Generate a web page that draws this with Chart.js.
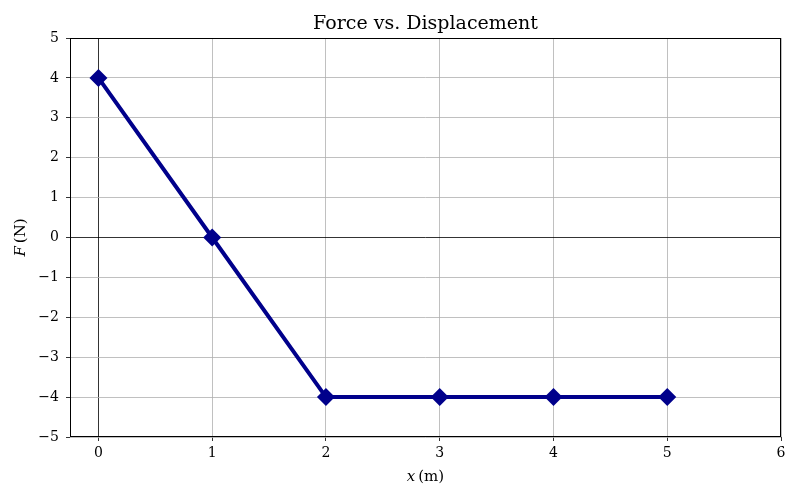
<!DOCTYPE html>
<html>
<head>
<meta charset="utf-8">
<script src="https://cdn.jsdelivr.net/npm/chart.js@4/dist/chart.umd.min.js"></script>
<style>
  body { margin: 0; background: #fff; }
</style>
</head>
<body>
<canvas id="forceChart" width="800" height="500"></canvas>
<script>
// data
const displacement = [0, 1, 2, 3, 4, 5];
const force = [4, 0, -4, -4, -4, -4];
const xTicks = [0, 1, 2, 3, 4, 5, 6];
const yTicks = [-5, -4, -3, -2, -1, 0, 1, 2, 3, 4, 5];
const chartTitle = 'Force vs. Displacement';

const serif = "'DejaVu Serif', 'Liberation Serif', serif";

// label with italic symbol + upright unit
function drawMixed(ctx, sym, unit, x, y, rotate) {
  ctx.save();
  ctx.translate(x, y);
  if (rotate) ctx.rotate(-Math.PI / 2);
  ctx.fillStyle = '#000';
  ctx.textBaseline = 'middle';
  ctx.font = 'italic 15px ' + serif;
  const w1 = ctx.measureText(sym).width;
  ctx.font = '15px ' + serif;
  const w2 = ctx.measureText(unit).width;
  let start = -(w1 + w2) / 2;
  ctx.textAlign = 'left';
  ctx.font = 'italic 15px ' + serif;
  ctx.fillText(sym, start, 0);
  ctx.font = '15px ' + serif;
  ctx.fillText(unit, start + w1, 0);
  ctx.restore();
}

const framePlugin = {
  id: 'frame',
  afterDraw(chart) {
    const { ctx, chartArea: a } = chart;
    ctx.save();
    ctx.strokeStyle = '#000';
    ctx.lineWidth = 1;
    ctx.strokeRect(a.left + 0.5, a.top + 0.5, a.right - a.left - 1, a.bottom - a.top - 1);
    // title centred over the plot area
    ctx.fillStyle = '#000';
    ctx.font = '19px ' + serif;
    ctx.textAlign = 'center';
    ctx.textBaseline = 'middle';
    ctx.fillText(chartTitle, (a.left + a.right) / 2, 24);
    ctx.restore();
    drawMixed(ctx, 'x', '\u2009(m)', (a.left + a.right) / 2, 477, false);
    drawMixed(ctx, 'F', '\u2009(N)', 21, (a.top + a.bottom) / 2, true);
  }
};

const ctx = document.getElementById('forceChart').getContext('2d');
new Chart(ctx, {
  type: 'scatter',
  data: {
    datasets: [{
      data: displacement.map((x, i) => ({ x: x, y: force[i] })),
      showLine: true,
      borderColor: '#00008B',
      backgroundColor: '#00008B',
      borderWidth: 4,
      pointStyle: 'rectRot',
      pointRadius: 9,
      pointHoverRadius: 9,
      pointBorderWidth: 0
    }]
  },
  options: {
    responsive: false,
    animation: false,
    layout: { padding: { left: 0, right: 19, top: 38, bottom: 0 } },
    plugins: {
      legend: { display: false },
      tooltip: { enabled: false },
      title: { display: false }
    },
    scales: {
      x: {
        type: 'linear',
        min: -0.25,
        max: 6,
        afterBuildTicks: s => { s.ticks = xTicks.map(v => ({ value: v })); },
        afterFit: s => { s.height = 63; },
        border: { display: false },
        grid: {
          color: c => c.tick && c.tick.value === 0 ? '#000' : '#b0b0b0',
          lineWidth: 0.8,
          tickColor: '#000',
          tickLength: 4
        },
        ticks: {
          color: '#000',
          padding: 4,
          font: { family: serif, size: 14 },
          callback: v => String(v).replace('-', '\u2212')
        }
      },
      y: {
        type: 'linear',
        min: -5,
        max: 5,
        afterBuildTicks: s => { s.ticks = yTicks.map(v => ({ value: v })); },
        afterFit: s => { s.width = 70; },
        border: { display: false },
        grid: {
          color: c => c.tick && c.tick.value === 0 ? '#000' : '#b0b0b0',
          lineWidth: 0.8,
          tickColor: '#000',
          tickLength: 4
        },
        ticks: {
          color: '#000',
          padding: 7,
          font: { family: serif, size: 14 },
          callback: v => String(v).replace('-', '\u2212')
        }
      }
    }
  },
  plugins: [framePlugin]
});
</script>
</body>
</html>
